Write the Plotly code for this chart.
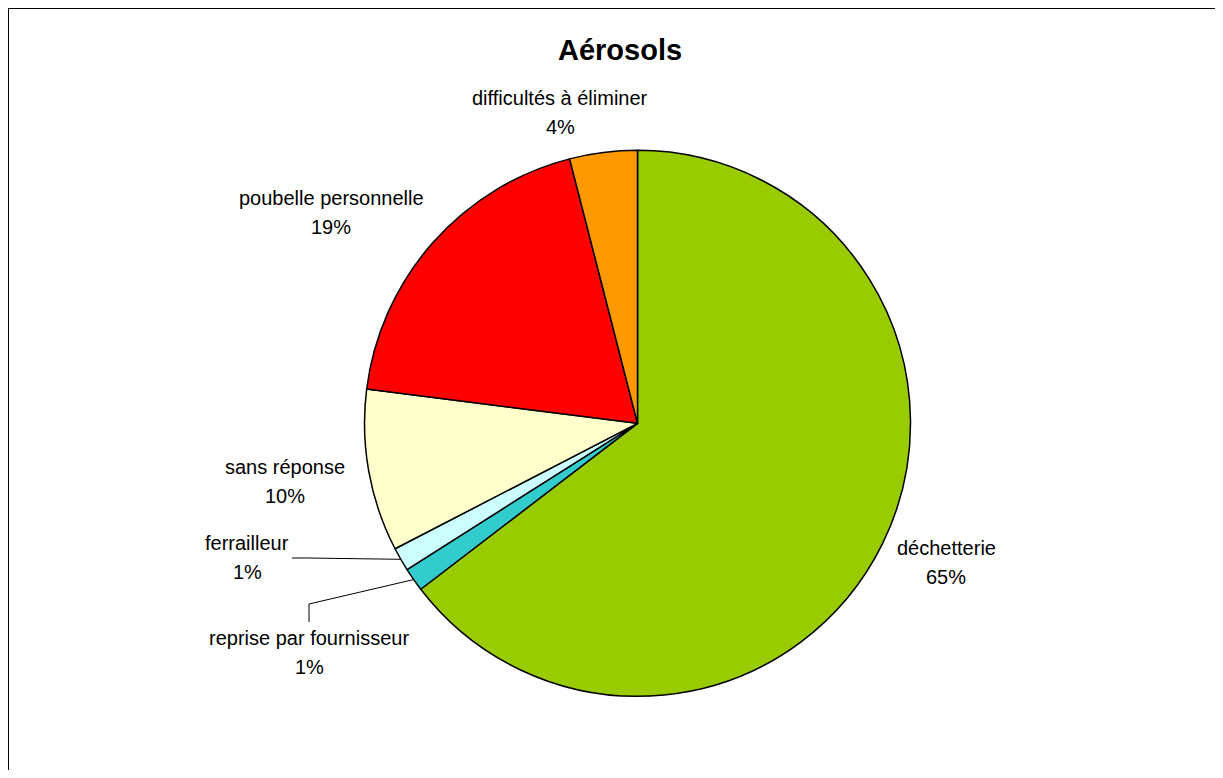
import math
import plotly.graph_objects as go

# ---- data ----
labels = ["déchetterie", "reprise par fournisseur", "ferrailleur",
          "sans réponse", "poubelle personnelle", "difficultés à éliminer"]
values = [64.6, 1.4, 1.4, 9.6, 19.0, 4.0]
colors = ["#99CC00", "#33CCCC", "#CCFFFF", "#FFFFCC", "#FF0000", "#FF9900"]
title_text = "Aérosols"

# ---- layout / style (page pixels) ----
OFF = 8                      # page body margin
W, H = 1223 - 2 * OFF, 778 - 2 * OFF
CX, CY, R = 637.5, 423.3, 273
FONT = "Liberation Sans, Arial, sans-serif"
LABEL_SIZE = 20
LINE_GAP = 29
label_pos = {
    "déchetterie": (946, 548),
    "reprise par fournisseur": (309, 638),
    "ferrailleur": (247, 543),
    "sans réponse": (285, 467),
    "poubelle personnelle": (331, 198),
    "difficultés à éliminer": (560, 98),
}
leader_elbows = {
    "ferrailleur": [(292, 558), (306, 558)],
    "reprise par fournisseur": [(309, 622), (309, 604)],
}


def px(x):
    return (x - OFF) / W


def py(y):
    return 1 - (y - OFF) / H


fig = go.Figure()
fig.add_trace(go.Pie(
    labels=labels,
    values=values,
    sort=False,
    direction="clockwise",
    rotation=0,
    marker=dict(colors=colors, line=dict(color="black", width=1.5)),
    textinfo="none",
    hoverinfo="label+percent",
    showlegend=False,
    domain=dict(x=[px(CX - R), px(CX + R)], y=[py(CY + R), py(CY - R)]),
))

total = sum(values)
annotations = [dict(
    text=f"<b>{title_text}</b>", x=px(620), y=py(50), xref="paper", yref="paper",
    showarrow=False, xanchor="center", yanchor="middle",
    font=dict(family=FONT, size=29, color="black"),
)]
frame = dict(color="black", width=2)
shapes = [
    dict(type="line", xref="paper", yref="paper",
         x0=px(8), x1=1.0, y0=py(8), y1=py(8), line=frame),
    dict(type="line", xref="paper", yref="paper",
         x0=px(8), x1=px(8), y0=0.0, y1=py(8), line=frame),
]

cum = 0.0
for lab, v in zip(labels, values):
    mid = (cum + v / 2) / total * 2 * math.pi
    cum += v
    lx, ly = label_pos[lab]
    pct = f"{round(v / total * 100)}%"
    for txt, yy in ((lab, ly), (pct, ly + LINE_GAP)):
        annotations.append(dict(
            text=txt, x=px(lx), y=py(yy), xref="paper", yref="paper",
            showarrow=False, xanchor="center", yanchor="middle",
            font=dict(family=FONT, size=LABEL_SIZE, color="black"),
        ))
    if lab in leader_elbows:
        ex = CX + R * math.sin(mid)
        ey = CY - R * math.cos(mid)
        pts = leader_elbows[lab] + [(ex, ey)]
        path = "M " + " L ".join(f"{px(a):.5f},{py(b):.5f}" for a, b in pts)
        shapes.append(dict(type="path", xref="paper", yref="paper", path=path,
                           line=dict(color="black", width=1)))

fig.update_layout(
    width=W, height=H,
    margin=dict(l=0, r=0, t=0, b=0),
    paper_bgcolor="white", plot_bgcolor="white",
    annotations=annotations, shapes=shapes,
)

fig.write_html("out.html")
